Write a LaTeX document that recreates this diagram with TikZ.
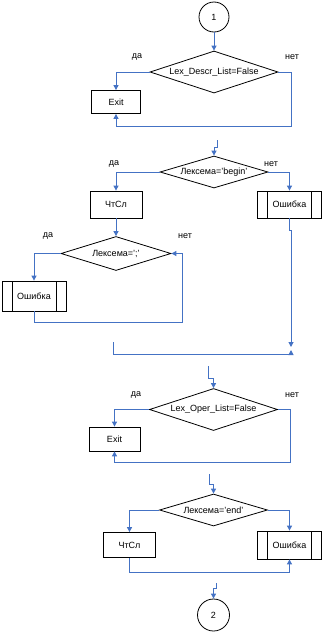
\documentclass[tikz,border=0pt]{standalone}
\usepackage{fontspec}
\setmainfont{Liberation Sans}
\usetikzlibrary{arrows.meta, shapes.geometric}
\definecolor{flowblue}{RGB}{68,114,196}
\tikzset{
  flow/.style={draw=flowblue, line width=1pt, -{Triangle[width=5pt,length=5pt]}},
  link/.style={draw=flowblue, line width=1pt},
  decision/.style={diamond, draw, line width=0.8pt, shape aspect=3, inner sep=0pt},
  bigdec/.style={decision, minimum width=128pt, minimum height=42pt},
  smalldec/.style={decision, minimum width=108pt, minimum height=32pt},
  procbox/.style={rectangle, draw, line width=0.8pt, inner sep=0pt},
  subproc/.style={procbox, path picture={
      \draw[line width=0.8pt] ([xshift=10pt]path picture bounding box.north west) -- ([xshift=10pt]path picture bounding box.south west);
      \draw[line width=0.8pt] ([xshift=-10pt]path picture bounding box.north east) -- ([xshift=-10pt]path picture bounding box.south east);}},
  connector/.style={circle, draw, line width=0.8pt, inner sep=0pt},
  answer/.style={inner sep=0pt}
}
\begin{document}
\begin{tikzpicture}[x=1pt, y=-1pt, font=\fontsize{9}{10}\selectfont]
  \useasboundingbox (0,0) rectangle (322,632);
  \node[connector, minimum size=30pt] (c1) at (214,17) {1};
  \node[bigdec] (d1) at (214,72) {Lex\_Descr\_List=False};
  \node[procbox, minimum width=49pt, minimum height=23pt] (exit1) at (116,102) {Exit};
  \node[answer] at (137,57) {да};
  \node[answer] at (292,57) {нет};
  \draw[flow] (c1) -- (d1.north);
  \draw[flow] (d1.west) -| (exit1.north);
  \draw[flow] (d1.east) -| (291,126) -| (exit1.south);

  \coordinate (in2) at (217,140);
  \node[smalldec] (d2) at (214,172) {Лексема='begin'};
  \node[procbox, minimum width=52pt, minimum height=27pt] (read1) at (116,204.5) {ЧтСл};
  \node[subproc, minimum width=64pt, minimum height=27pt] (err1) at (289.5,204.5) {Ошибка};
  \node[answer] at (114,164) {да};
  \node[answer] at (271,164) {нет};
  \draw[flow] (in2) |- (214,147) -- (d2.north);
  \draw[flow] (d2.west) -| (read1.north);
  \draw[flow] (d2.east) -| (err1.north);

  \node[decision, minimum width=110pt, minimum height=34pt] (d3) at (116,253.5) {Лексема=';'};
  \node[subproc, minimum width=64pt, minimum height=30pt] (err2) at (34,296) {Ошибка};
  \node[answer] at (48,236) {да};
  \node[answer] at (185,236) {нет};
  \draw[flow] (read1) -- (d3.north);
  \draw[flow] (d3.west) -| (err2.north);
  \draw[flow] (err2.south) |- (182,322) |- (d3.east);

  \coordinate (join1) at (291,347);
  \coordinate (join2) at (113,342);
  \coordinate (join3) at (291,350);
  \draw[flow] (err1.south) |- (291,230) -- (join1);
  \draw[flow] (join2) |- (291,354) -- (join3);

  \coordinate (in4) at (208,366);
  \node[bigdec] (d4) at (213.5,409.5) {Lex\_Oper\_List=False};
  \node[procbox, minimum width=51pt, minimum height=24pt] (exit2) at (114.5,439) {Exit};
  \node[answer] at (136,395) {да};
  \node[answer] at (292,395) {нет};
  \draw[flow] (in4) |- (213.5,378) -- (d4.north);
  \draw[flow] (d4.west) -| (exit2.north);
  \draw[flow] (d4.east) -| (290,462) -| (exit2.south);

  \coordinate (in5) at (209,474);
  \node[smalldec] (d5) at (213.5,510) {Лексема='end'};
  \node[procbox, minimum width=52pt, minimum height=25pt] (read2) at (129.5,545) {ЧтСл};
  \node[subproc, minimum width=64pt, minimum height=28pt] (err3) at (289.5,545) {Ошибка};
  \draw[flow] (in5) |- (213.5,484) -- (d5.north);
  \draw[flow] (d5.west) -| (read2.north);
  \draw[flow] (d5.east) -| (err3.north);
  \draw[flow] (read2.south) |- (289.5,572) -- (err3.south);

  \coordinate (in6) at (216.5,583);
  \node[connector, minimum size=32pt] (c2) at (213.5,615) {2};
  \draw[flow] (in6) |- (213.5,588) -- (c2.north);
\end{tikzpicture}
\end{document}
